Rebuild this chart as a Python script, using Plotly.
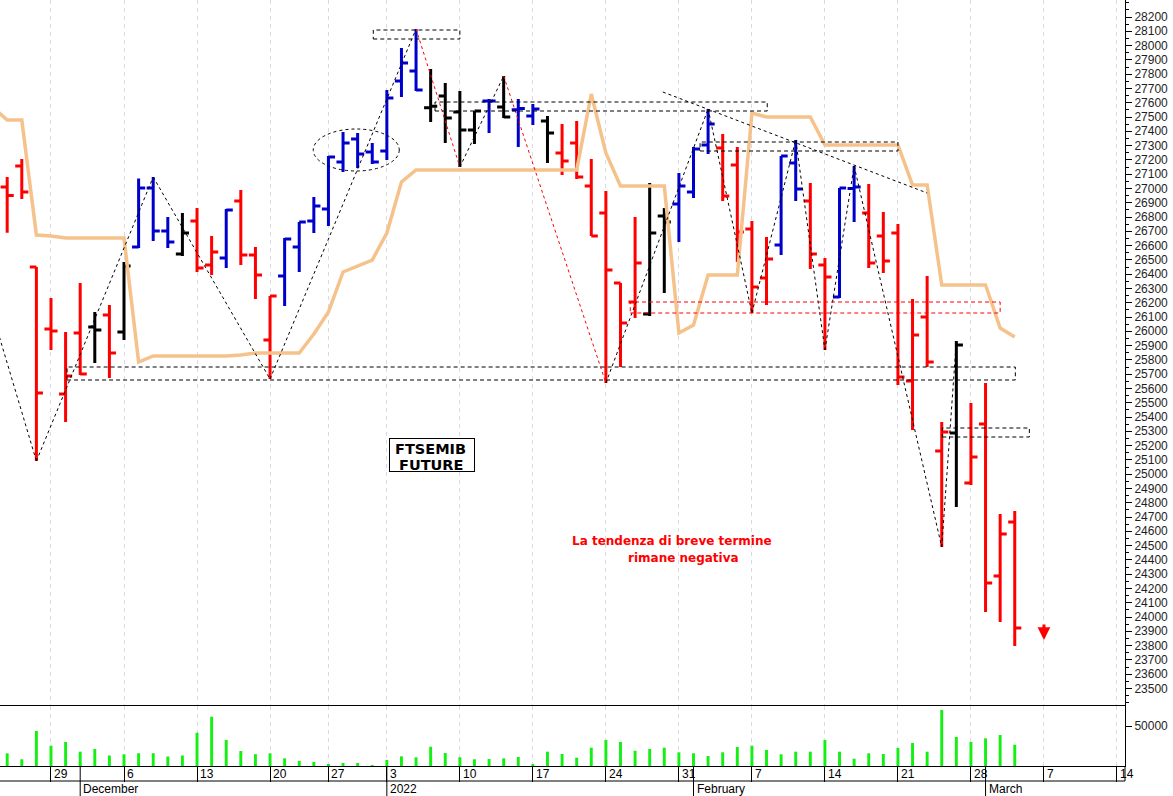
import pandas as pd
import plotly.graph_objects as go

# ---------------- DATA ----------------
holidays = ["2021-12-24", "2021-12-31"]
cal = [d for d in pd.bdate_range("2021-11-24", "2022-03-14") if d.strftime("%Y-%m-%d") not in holidays]
dates = [d.strftime("%Y-%m-%d") for d in cal]          # trading days (70 bars + future days to Mar 14)

opens = [27010, 27157, 26450, 26016, 25561, 25988, 26030, 26114, 25995, 26590,
         27003, 26702, 26541, 26772, 26464, 26513, 26912, 26534, 25939, 26387,
         26590, 26772, 26856, 27185, 27346, 27255, 27262, 27752, 27822, 27565,
         27647, 27535, 27409, 27612, 27570, 27550, 27507, 27472, 27248, 27318,
         27017, 26828, 26338, 26205, 26121, 26807, 26891, 26975, 27304, 27283,
         27164, 26716, 26373, 26604, 27178, 26912, 26464, 26240, 27000, 26828,
         26667, 26688, 25652, 26100, 25162, 25288, 24938, 25351, 24287, 24665]
highs = [27080, 27206, 26450, 26233, 25995, 26338, 26135, 26184, 26485, 27070,
         27080, 26800, 26828, 26863, 26667, 26856, 26989, 26590, 26247, 26653,
         26765, 26940, 27227, 27395, 27388, 27318, 27689, 27983, 28116, 27836,
         27738, 27682, 27542, 27626, 27787, 27626, 27591, 27507, 27451, 27472,
         27206, 26982, 26338, 26800, 27038, 26863, 27108, 27290, 27556, 27381,
         27290, 26772, 26660, 27227, 27339, 27038, 26513, 27003, 27157, 27031,
         26835, 26751, 26226, 26387, 25365, 25932, 25498, 25638, 24721, 24742]
lows = [26690, 26926, 25092, 25869, 25365, 25694, 25778, 25673, 25939, 26583,
        26632, 26583, 26527, 26415, 26394, 26443, 26464, 26226, 25666, 26177,
        26415, 26688, 26737, 27115, 27143, 27171, 27199, 27640, 27682, 27465,
        27318, 27150, 27311, 27388, 27493, 27290, 27444, 27178, 27094, 27066,
        26667, 25638, 25750, 26093, 26107, 26268, 26625, 26933, 27241, 26912,
        26485, 26128, 26184, 26534, 26912, 26436, 25869, 26233, 26765, 26443,
        26408, 25624, 25309, 25750, 24490, 24770, 24924, 24035, 23965, 23797]
closes = [26950, 26975, 25568, 26002, 25687, 25701, 26009, 25848, 26457, 27003,
          26702, 26625, 26688, 26443, 26555, 26849, 26534, 26394, 26247, 26646,
          26765, 26877, 27220, 27318, 27241, 27185, 27633, 27878, 27689, 27575,
          27493, 27409, 27542, 27612, 27500, 27560, 27556, 27388, 27192, 27080,
          26667, 26429, 26058, 26478, 26688, 26765, 27017, 27276, 27451, 26947,
          26695, 26310, 26506, 27227, 26996, 26541, 26380, 27003, 27010, 26478,
          26492, 25680, 25974, 25785, 25295, 25904, 25120, 24238, 24581, 23923]
bar_colour = ["r", "r", "r", "r", "r", "r", "k", "r", "k", "b",
              "b", "b", "k", "r", "r", "b", "r", "r", "r", "b",
              "b", "b", "b", "b", "b", "b", "b", "b", "b", "k",
              "k", "k", "k", "b", "k", "b", "b", "k", "r", "r",
              "r", "r", "r", "r", "k", "k", "b", "b", "b", "r",
              "r", "r", "r", "b", "b", "r", "r", "b", "b", "r",
              "r", "r", "r", "r", "r", "k", "r", "r", "r", "r"]
volume = [15900, 8400, 43750, 25400, 30000, 17900, 21250, 13100, 14600, 16000,
          16000, 11900, 13100, 41500, 61600, 32500, 18750, 14750, 15900, 9600,
          6500, 5000, 2500, 3750, 3750, 1250, 7500, 12100, 10900, 24100,
          16250, 10900, 8400, 8750, 9600, 11250, 2500, 17900, 15000, 10400,
          22900, 32500, 30000, 19100, 21250, 22900, 17100, 15900, 12500, 17100,
          23750, 25400, 20000, 14600, 17900, 17900, 32500, 17900, 9100, 15900,
          15000, 22500, 28750, 17900, 70000, 36250, 30000, 34600, 38750, 26600]
# trailing stop line (first value = previous day, Nov 23)
stop_line = [27570, 27479, 27479, 26674, 26667, 26653, 26653, 26653, 26653, 26653,
             25785, 25827, 25827, 25827, 25827, 25827, 25827, 25834, 25848, 25848,
             25848, 25848, 25981, 26135, 26415, 26457, 26499, 26688, 27045, 27129,
             27129, 27129, 27129, 27129, 27129, 27129, 27129, 27129, 27129, 27129,
             27129, 27661, 27248, 27017, 27017, 27017, 27017, 25988, 26044, 26394,
             26394, 26394, 27528, 27500, 27500, 27500, 27500, 27304, 27304, 27304,
             27304, 27304, 27304, 27024, 27024, 26324, 26324, 26324, 26324, 26023,
             25960]
# zig-zag swing pivots (bar index, H/L); first point comes from before the window
zig_start_price = 26120
pivot_bar = [2, 10, 18, 28, 31, 34, 41, 48, 51, 54, 56, 58, 64, 65]
pivot_kind = ["L", "H", "L", "H", "L", "H", "L", "H", "L", "H", "L", "H", "L", "H"]
segment_colour = ["k", "k", "k", "k", "r", "k", "r", "k", "k", "k", "k", "k", "k", "k"]
# descending trendline (bar position, price)
trend_pos = [44.9, 63.0]
trend_price = [27675, 26968]
# support / resistance zones
zone_from = [25.07, 29.3, 47.45, 42.67, 4.1, 64.04]
zone_to = [31.0, 52.05, 61.0, 68.0, 69.04, 70.0]
zone_low = [28046, 27542, 27262, 26128, 25659, 25260]
zone_high = [28109, 27605, 27325, 26205, 25750, 25323]
zone_colour = ["k", "k", "k", "r", "k", "k"]
# congestion ellipse
ellipse_pos = [20.96, 26.85]
ellipse_price = [27122, 27416]
price_ticks = list(range(23500, 28201, 100))
price_tick_text = [str(v) for v in price_ticks]
volume_ticks = [50000]
volume_tick_text = ["50000"]
month_names = {12: "December", 2: "February", 3: "March", 1: "2022"}

COL = {"r": "#FF0000", "b": "#0000CC", "k": "#000000"}

# ---------------- FIGURE ----------------
W, H = 1173, 796
n = len(opens)
xs = list(range(n))
x_lo, x_hi = -0.492, 76.55
plot_right = 1125 / W
main_bottom = 1 - 706 / H
vol_bottom = 1 - 766 / H
sep_y = 1 - 781 / H

fig = go.Figure()

fig.add_trace(go.Scatter(x=list(range(-1, n)), y=stop_line, mode="lines",
                         line=dict(color="#F5C28C", width=3.5), hoverinfo="skip"))

for code in ["r", "b", "k"]:
    idx = [i for i in xs if bar_colour[i] == code]
    fig.add_trace(go.Ohlc(
        x=idx, open=[opens[i] for i in idx], high=[highs[i] for i in idx],
        low=[lows[i] for i in idx], close=[closes[i] for i in idx],
        increasing=dict(line=dict(color=COL[code], width=3)),
        decreasing=dict(line=dict(color=COL[code], width=3)),
        tickwidth=0.45, hoverinfo="skip", xaxis="x", yaxis="y"))

# zig-zag
pts_x = [-1] + pivot_bar
pts_y = [zig_start_price] + [highs[b] if k == "H" else lows[b] for b, k in zip(pivot_bar, pivot_kind)]
for s, c in enumerate(segment_colour):
    fig.add_trace(go.Scatter(x=pts_x[s:s + 2], y=pts_y[s:s + 2], mode="lines",
                             line=dict(color=COL[c], width=1, dash="3px,3px"), hoverinfo="skip"))
fig.add_trace(go.Scatter(x=trend_pos, y=trend_price, mode="lines",
                         line=dict(color="black", width=1, dash="3px,3px"), hoverinfo="skip"))

# volume
fig.add_trace(go.Bar(x=xs, y=volume, width=0.2, marker=dict(color="#14F014", line=dict(width=0)),
                     xaxis="x2", yaxis="y2", hoverinfo="skip"))

shapes = []
for x0, x1, lo, hi, c in zip(zone_from, zone_to, zone_low, zone_high, zone_colour):
    shapes.append(dict(type="rect", xref="x", yref="y", x0=x0, x1=x1, y0=lo, y1=hi,
                       line=dict(color=COL[c], width=1, dash="4px,3px"), fillcolor="rgba(0,0,0,0)"))
shapes.append(dict(type="circle", xref="x", yref="y", x0=ellipse_pos[0], x1=ellipse_pos[1],
                   y0=ellipse_price[0], y1=ellipse_price[1],
                   line=dict(color="black", width=1, dash="3px,3px")))
# date axis decorations
shapes.append(dict(type="line", xref="paper", yref="paper", x0=0, x1=plot_right, y0=sep_y, y1=sep_y,
                   line=dict(color="black", width=1)))
shapes.append(dict(type="line", xref="paper", yref="paper", x0=plot_right, x1=plot_right, y0=sep_y, y1=vol_bottom,
                   line=dict(color="black", width=1)))

annotations = []
mondays = []
prev_month = None
for i, d in enumerate(cal):
    if d.weekday() == 0:
        mondays.append(i)
        annotations.append(dict(x=i, y=1 - 773.5 / H, xref="x2", yref="paper", text=str(d.day),
                                showarrow=False, xanchor="left", yanchor="middle", xshift=1,
                                font=dict(family="Liberation Sans, Arial", size=12, color="black")))
    if prev_month is not None and d.month != prev_month:
        shapes.append(dict(type="line", xref="x2", yref="paper", x0=i, x1=i, y0=0, y1=vol_bottom,
                           line=dict(color="black", width=1)))
        annotations.append(dict(x=i, y=1 - 789 / H, xref="x2", yref="paper", text=month_names[d.month],
                                showarrow=False, xanchor="left", yanchor="middle", xshift=1,
                                font=dict(family="Liberation Sans, Arial", size=12, color="black")))
    prev_month = d.month

# text boxes
annotations.append(dict(x=29.1, y=25134, xref="x", yref="y", text=" ", showarrow=False,
                        width=84, height=32, bordercolor="black", borderwidth=1, borderpad=0,
                        bgcolor="white"))
annotations.append(dict(x=29.0, y=25176, xref="x", yref="y", text="<b>FTSEMIB</b>", showarrow=False,
                        font=dict(family="DejaVu Sans", size=14.5, color="black")))
annotations.append(dict(x=29.0, y=25064, xref="x", yref="y", text="<b>FUTURE</b>", showarrow=False,
                        font=dict(family="DejaVu Sans", size=14.5, color="black")))
annotations.append(dict(x=45.53, y=24532, xref="x", yref="y", text="<b>La tendenza di breve termine</b>",
                        showarrow=False, font=dict(family="DejaVu Sans", size=12, color="#FF0000")))
annotations.append(dict(x=46.3, y=24416, xref="x", yref="y", text="<b>rimane negativa</b>",
                        showarrow=False, font=dict(family="DejaVu Sans", size=12, color="#FF0000")))
# down arrow
annotations.append(dict(x=71, y=23839, xref="x", yref="y", ax=0, ay=-17, text="", showarrow=True,
                        arrowhead=2, arrowsize=0.85, arrowwidth=3, arrowcolor="#FF0000"))

grid = dict(showgrid=True, gridcolor="#DADAE4", gridwidth=1, griddash="4px,4px")
tick_font = dict(family="Liberation Sans, Arial", size=12, color="#1E1E1E")
fig.update_layout(
    width=W, height=H, margin=dict(l=0, r=0, t=0, b=0),
    paper_bgcolor="white", plot_bgcolor="white", showlegend=False,
    xaxis=dict(domain=[0, plot_right], range=[x_lo, x_hi], anchor="y", tickvals=mondays,
               showticklabels=False, ticks="", zeroline=False, showline=False,
               rangeslider=dict(visible=False), **grid),
    yaxis=dict(domain=[main_bottom, 1], range=[23377, 28319], side="right", anchor="x",
               tickvals=price_ticks, ticktext=price_tick_text, ticks="outside", ticklen=6,
               tickcolor="black", showline=True, linecolor="black", linewidth=1,
               showgrid=False, zeroline=False, tickfont=tick_font,
               minor=dict(dtick=50, tick0=23350, ticks="outside", ticklen=3, tickcolor="black")),
    xaxis2=dict(domain=[0, plot_right], range=[x_lo, x_hi], anchor="y2", tickvals=mondays,
                showticklabels=False, ticks="outside", ticklen=15, tickcolor="black",
                showline=True, mirror=True, linecolor="black", linewidth=1, zeroline=False,
                rangeslider=dict(visible=False), **grid),
    yaxis2=dict(domain=[vol_bottom, main_bottom], range=[0, 75000], side="right", anchor="x2",
                tickvals=volume_ticks, ticktext=volume_tick_text, ticks="outside", ticklen=6,
                tickcolor="black", showline=True, linecolor="black", linewidth=1,
                showgrid=False, zeroline=False, tickfont=tick_font),
    shapes=shapes, annotations=annotations,
)

fig.write_html("out.html", config={"displayModeBar": False, "staticPlot": True},
               post_script="document.body.style.margin='0px';document.body.style.overflow='hidden';")
